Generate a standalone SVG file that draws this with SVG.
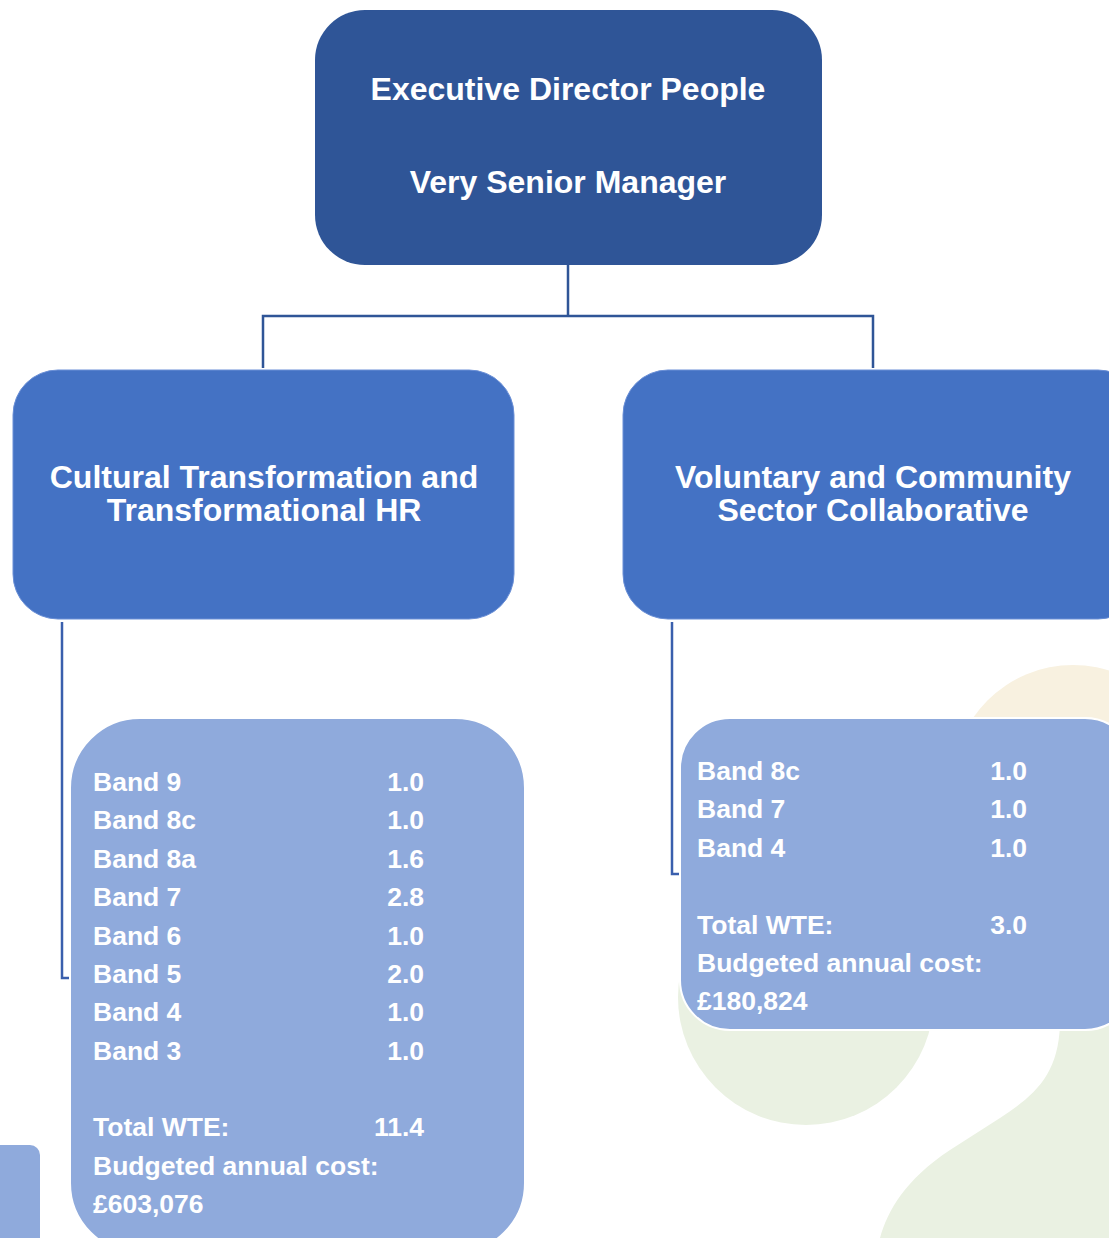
<svg xmlns="http://www.w3.org/2000/svg" width="1109" height="1238" viewBox="0 0 1109 1238">
<style>
text{font-family:"Liberation Sans",Arial,sans-serif;font-weight:bold;fill:#FFFFFF}
.t1{font-size:32px;text-anchor:middle}
.t2{font-size:26.5px}
.v{text-anchor:end}
.conn{fill:none;stroke:#2F5597;stroke-width:2.5}
.brk{fill:none;stroke:#3A5FAD;stroke-width:2.5}
.info{fill:#8FAADC;stroke:#FFFFFF;stroke-width:2}
.lvl2{fill:#4472C4;stroke:#6A8FD6;stroke-width:1}
</style>
<rect width="1109" height="1238" fill="#FFFFFF"/>
<g id="background">
<circle cx="1073" cy="786" r="121" fill="#F8F1E0"/>
<circle cx="806" cy="997" r="128" fill="#EAF1E2"/>
<path d="M1060 1025 C1058 1075 1035 1095 1000 1118 L950 1150 C905 1180 888 1210 880 1238 L1109 1238 L1109 1025 Z" fill="#EAF1E2"/>
<rect x="-20" y="1145" width="60" height="110" rx="10" fill="#8FAADC"/>
</g>
<g id="connectors">
<path class="conn" d="M568 265 V316 M263 368 V316 H873 V368"/>
<path class="brk" d="M62 622 V978 H70"/>
<path class="brk" d="M672 622 V874 H680"/>
</g>
<g id="node-exec">
<rect x="315" y="10" width="507" height="255" rx="50" fill="#2F5597"/>
<text class="t1" x="568" y="100">Executive Director People</text>
<text class="t1" x="568" y="193">Very Senior Manager</text>
</g>
<g id="node-cultural">
<rect class="lvl2" x="13" y="370" width="501" height="249" rx="45"/>
<text class="t1" x="264" y="488">Cultural Transformation and</text>
<text class="t1" x="264" y="521">Transformational HR</text>
</g>
<g id="node-voluntary">
<rect class="lvl2" x="623" y="370" width="520" height="249" rx="45"/>
<text class="t1" x="873" y="488">Voluntary and Community</text>
<text class="t1" x="873" y="521">Sector Collaborative</text>
</g>
<g id="node-cultural-staff">
<rect class="info" x="70" y="718" width="455" height="535" rx="70"/>
<text class="t2" x="93" y="791">Band 9</text><text class="t2 v" x="424" y="791">1.0</text>
<text class="t2" x="93" y="829">Band 8c</text><text class="t2 v" x="424" y="829">1.0</text>
<text class="t2" x="93" y="868">Band 8a</text><text class="t2 v" x="424" y="868">1.6</text>
<text class="t2" x="93" y="906">Band 7</text><text class="t2 v" x="424" y="906">2.8</text>
<text class="t2" x="93" y="945">Band 6</text><text class="t2 v" x="424" y="945">1.0</text>
<text class="t2" x="93" y="983">Band 5</text><text class="t2 v" x="424" y="983">2.0</text>
<text class="t2" x="93" y="1021">Band 4</text><text class="t2 v" x="424" y="1021">1.0</text>
<text class="t2" x="93" y="1060">Band 3</text><text class="t2 v" x="424" y="1060">1.0</text>
<text class="t2" x="93" y="1136">Total WTE:</text><text class="t2 v" x="424" y="1136">11.4</text>
<text class="t2" x="93" y="1175">Budgeted annual cost:</text>
<text class="t2" x="93" y="1213">£603,076</text>
</g>
<g id="node-voluntary-staff">
<rect class="info" x="680" y="718" width="455" height="312" rx="50"/>
<text class="t2" x="697" y="780">Band 8c</text><text class="t2 v" x="1027" y="780">1.0</text>
<text class="t2" x="697" y="818">Band 7</text><text class="t2 v" x="1027" y="818">1.0</text>
<text class="t2" x="697" y="857">Band 4</text><text class="t2 v" x="1027" y="857">1.0</text>
<text class="t2" x="697" y="934">Total WTE:</text><text class="t2 v" x="1027" y="934">3.0</text>
<text class="t2" x="697" y="972">Budgeted annual cost:</text>
<text class="t2" x="697" y="1010">£180,824</text>
</g>
</svg>
